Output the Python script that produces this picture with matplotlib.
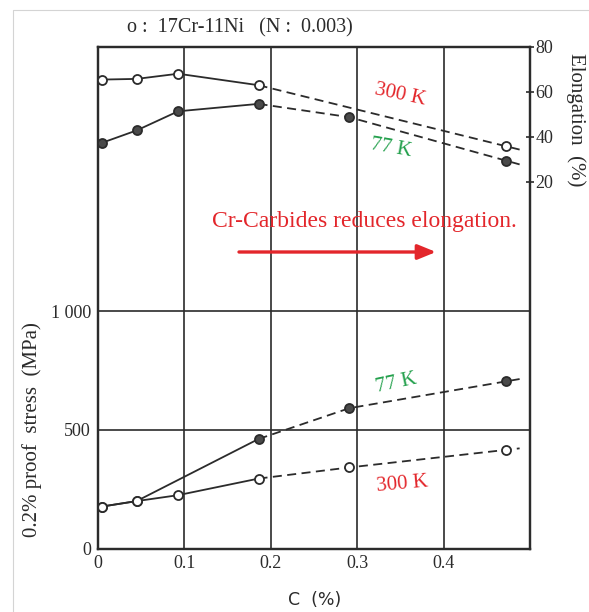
import matplotlib
matplotlib.use("Agg")
import matplotlib.pyplot as plt
from matplotlib.lines import Line2D

# Carbon content (%) and measured properties of 17Cr-11Ni steel
carbon_elong_300 = [0.005, 0.045, 0.093, 0.186, 0.472]
elong_300 = [65.3, 65.6, 67.9, 62.8, 35.7]
carbon_elong_77 = [0.005, 0.045, 0.093, 0.186, 0.291, 0.472]
elong_77 = [37.2, 42.7, 51.2, 54.5, 48.6, 29.3]

carbon_stress_300 = [0.005, 0.045, 0.093, 0.186, 0.291, 0.472]
stress_300 = [177, 200, 225, 295, 342, 416]
carbon_stress_77 = [0.005, 0.045, 0.186, 0.291, 0.472]
stress_77 = [177, 200, 462, 592, 705]

x_ticks = [0, 0.1, 0.2, 0.3, 0.4]
x_tick_labels = ["0", "0.1", "0.2", "0.3", "0.4"]
stress_ticks = [0, 500, 1000]
stress_tick_labels = ["0", "500", "1 000"]
elong_ticks = [20, 40, 60, 80]

SERIF = ["Liberation Serif", "DejaVu Serif"]
INK = "#2b2b2b"
RED = "#e3262b"
GREEN = "#23a04c"

W, H = 589, 612
fig = plt.figure(figsize=(W / 100, H / 100), dpi=100)
ax = fig.add_axes([97.7 / W, 1 - 548.5 / H, 432.3 / W, 502 / H])
ax2 = ax.twinx()

ax.set_xlim(0, 0.5)
ax.set_ylim(0, 2118)
ax2.set_ylim(-143.1, 80)

# grid: vertical lines at every 0.1 %, horizontal at 500/1000 MPa
for xv in x_ticks[1:]:
    ax.axvline(xv, color=INK, lw=1.2, zorder=1)
for yv in stress_ticks[1:]:
    ax.axhline(yv, color=INK, lw=1.2, zorder=1)

for a in (ax, ax2):
    for s in a.spines.values():
        s.set_linewidth(1.6)
        s.set_color(INK)

ax.set_xticks(x_ticks)
ax.set_xticklabels(x_tick_labels, fontfamily=SERIF, fontsize=13, color=INK)
ax.set_yticks(stress_ticks)
ax.set_yticklabels(stress_tick_labels, fontfamily=SERIF, fontsize=13, color=INK)
ax.tick_params(axis="both", length=0, pad=5)

ax2.set_yticks(elong_ticks)
ax2.set_yticklabels([str(v) for v in elong_ticks], fontfamily=SERIF, fontsize=13, color=INK)
ax2.tick_params(axis="y", direction="inout", length=6, width=1.2, color=INK, pad=1)

EXT_X = 0.488


def draw_series(a, xs, ys, split_x, filled):
    k = xs.index(split_x)
    a.plot(xs[:k + 1], ys[:k + 1], color=INK, lw=1.3, zorder=3)
    # dashed continuation, carried a little past the last measurement
    x1, x2 = xs[-2], xs[-1]
    y1, y2 = ys[-2], ys[-1]
    y_ext = y2 + (y2 - y1) / (x2 - x1) * (EXT_X - x2)
    a.plot(xs[k:] + [EXT_X], ys[k:] + [y_ext], color=INK, lw=1.3,
           dashes=(5, 3), zorder=3)
    face = "#4a4a4a" if filled else "white"
    a.plot(xs, ys, ls="none", marker="o", ms=6.5, mfc=face, mec=INK, mew=1.3,
           zorder=4 if filled else 5)


draw_series(ax2, carbon_elong_300, elong_300, 0.186, False)
draw_series(ax2, carbon_elong_77, elong_77, 0.186, True)
draw_series(ax, carbon_stress_77, stress_77, 0.186, True)
draw_series(ax, carbon_stress_300, stress_300, 0.186, False)


def ax_pos(px, py):
    return ((px - 97.7) / 432.3, (548.5 - py) / 502)


def label(px, py, text, color, rot, size=15):
    ax.text(*ax_pos(px, py), text, transform=ax.transAxes, color=color,
            fontfamily=SERIF, fontsize=size, rotation=rot,
            ha="center", va="center", zorder=6)


label(400, 95, "300 K", RED, -12)
label(391, 148, "77 K", GREEN, -10)
label(396, 383, "77 K", GREEN, 12)
label(402, 484, "300 K", RED, 5)
label(364, 221, "Cr-Carbides reduces elongation.", RED, 0, size=17)

ax.annotate("", xy=ax_pos(436, 252), xytext=ax_pos(239, 252),
            xycoords="axes fraction", textcoords="axes fraction",
            arrowprops=dict(arrowstyle="-|>,head_length=1.1,head_width=0.45",
                            color=RED, lw=2.4, shrinkA=0, shrinkB=0),
            zorder=6)

fig.text(240 / W, 1 - 28 / H, "o :  17Cr-11Ni   (N :  0.003)", fontfamily=SERIF,
         fontsize=14.5, color=INK, ha="center", va="center")
fig.text(315 / W, 1 - 600 / H, "C  (%)", fontfamily="DejaVu Sans", fontsize=12.5,
         color=INK, ha="center", va="center")
fig.text(32 / W, 1 - 430 / H, "0.2% proof  stress  (MPa)", fontfamily=SERIF,
         fontsize=15, color=INK, rotation=90, ha="center", va="center")
fig.text(576 / W, 1 - 120 / H, "Elongation  (%)", fontfamily=SERIF,
         fontsize=15, color=INK, rotation=-90, ha="center", va="center")

# thin page border
fig.add_artist(Line2D([13 / W, 13 / W, 1], [0, 1 - 10 / H, 1 - 10 / H],
                      transform=fig.transFigure, color="#d4d4d4", lw=0.8))

fig.savefig("out.png", dpi=100)
